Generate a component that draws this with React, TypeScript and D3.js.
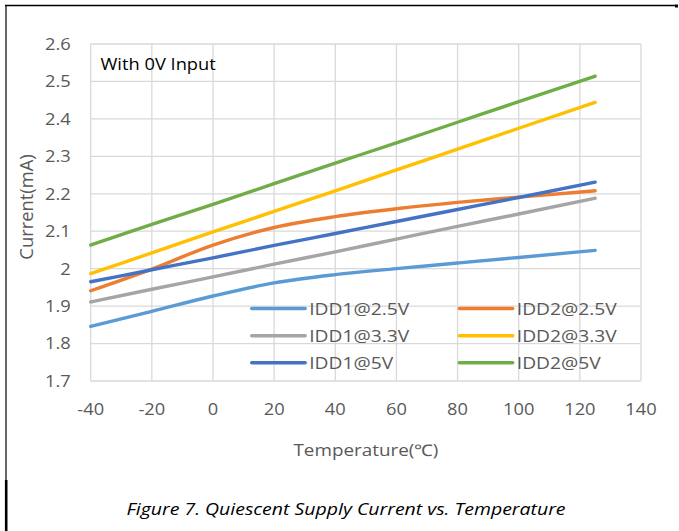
import React from 'react';
import * as d3 from 'd3';

const temps = [-40, -20, 0, 20, 40, 60, 80, 100, 125];

const idd1_25 = [1.846, 1.886, 1.927, 1.962, 1.984, 2.0, 2.015, 2.03, 2.049];
const idd2_25 = [1.941, 1.999, 2.063, 2.11, 2.139, 2.16, 2.177, 2.191, 2.208];
const idd1_33 = [1.911, 1.945, 1.978, 2.012, 2.045, 2.079, 2.113, 2.146, 2.188];
const idd2_33 = [1.987, 2.042, 2.098, 2.153, 2.208, 2.264, 2.319, 2.375, 2.444];
const idd1_5 = [1.965, 1.997, 2.029, 2.062, 2.094, 2.126, 2.158, 2.19, 2.231];
const idd2_5 = [2.063, 2.118, 2.172, 2.227, 2.282, 2.336, 2.391, 2.446, 2.514];

const seriesNames = ['IDD1@2.5V', 'IDD2@2.5V', 'IDD1@3.3V', 'IDD2@3.3V', 'IDD1@5V', 'IDD2@5V'];
const seriesValues = [idd1_25, idd2_25, idd1_33, idd2_33, idd1_5, idd2_5];
const colors = ['#5B9BD5', '#ED7D31', '#A5A5A5', '#FFC000', '#4472C4', '#70AD47'];

const xTicks = [-40, -20, 0, 20, 40, 60, 80, 100, 120, 140];
const yTicks = [1.7, 1.8, 1.9, 2.0, 2.1, 2.2, 2.3, 2.4, 2.5, 2.6];

const W = 679;
const H = 531;
const plot = { left: 90.7, right: 641, top: 44, bottom: 381 };
const SX = 1.18; // the picture is a bit wide, stretch text to match
const font = '"Open Sans", sans-serif';
const grey = '#595959';

const App: React.FC = () => {
  const x = d3.scaleLinear().domain([-40, 140]).range([plot.left, plot.right]);
  const y = d3.scaleLinear().domain([1.7, 2.6]).range([plot.bottom, plot.top]);

  const line = d3
    .line<[number, number]>()
    .x((d) => x(d[0]))
    .y((d) => y(d[1]))
    .curve(d3.curveMonotoneX);

  // legend: two columns, three rows
  const legendCol = [251.7, 459.3];
  const legendRow = [308.5, 335.7, 362.7];

  const txt = (
    key: string,
    tx: number,
    ty: number,
    s: string,
    size: number,
    anchor: string,
    fill: string,
    extra: any = {}
  ) => (
    <text
      key={key}
      transform={`translate(${tx},${ty}) scale(${SX},1)`}
      textAnchor={anchor}
      dominantBaseline="central"
      fontSize={size}
      fontFamily={font}
      fill={fill}
      {...extra}
    >
      {s}
    </text>
  );

  return (
    <svg
      width={W}
      height={H}
      style={{ position: 'absolute', left: 0, top: 0, background: '#fff' }}
    >
      {/* page borders */}
      <line x1={5} x2={676} y1={5.5} y2={5.5} stroke="#000" strokeWidth={1.5} />
      <line x1={675} x2={678} y1={6} y2={6} stroke="#000" strokeWidth={3} />
      <line x1={6} x2={6} y1={5} y2={480} stroke="#000" strokeWidth={1.2} />
      <line x1={6.2} x2={6.2} y1={480} y2={H} stroke="#000" strokeWidth={2.6} />

      {/* grid */}
      <g stroke="#d9d9d9" strokeWidth={1.3}>
        {xTicks.map((t) => (
          <line key={'gx' + t} x1={x(t)} x2={x(t)} y1={plot.top} y2={plot.bottom} />
        ))}
        {yTicks.map((t) => (
          <line key={'gy' + t} x1={plot.left} x2={plot.right} y1={y(t)} y2={y(t)} />
        ))}
      </g>

      {/* tick labels */}
      {yTicks.map((t) =>
        txt('yl' + t, 70.7, y(t), d3.format('')(+t.toFixed(1)), 15.5, 'end', grey)
      )}
      {xTicks.map((t) => txt('xl' + t, x(t), 409.5, String(t), 15.5, 'middle', grey))}

      {/* axis titles */}
      {txt('xt', (plot.left + plot.right) / 2, 450, 'Temperature(℃)', 16, 'middle', grey)}
      <text
        transform={`translate(25,207) rotate(-90) scale(1.08,1.12)`}
        textAnchor="middle"
        dominantBaseline="central"
        fontSize={17}
        fontFamily={font}
        fill={grey}
      >
        Current(mA)
      </text>

      {txt('note', 100.5, 64.5, 'With 0V Input', 15.5, 'start', '#000')}

      {/* series */}
      <g fill="none" strokeWidth={3.4} strokeLinecap="round" strokeLinejoin="round">
        {seriesValues.map((vals, i) => (
          <path
            key={seriesNames[i]}
            d={line(temps.map((t, j) => [t, vals[j]] as [number, number])) || ''}
            stroke={colors[i]}
          />
        ))}
      </g>

      {/* legend */}
      {seriesNames.map((name, i) => {
        const lx = legendCol[i % 2];
        const ly = legendRow[Math.floor(i / 2)];
        return (
          <g key={'lg' + name}>
            <line
              x1={lx}
              x2={lx + 53.5}
              y1={ly}
              y2={ly}
              stroke={colors[i]}
              strokeWidth={3.4}
              strokeLinecap="round"
            />
            {txt('lt' + name, lx + 57.5, ly, name, 16.3, 'start', grey)}
          </g>
        );
      })}

      {/* caption */}
      {txt(
        'cap',
        346,
        509,
        'Figure 7. Quiescent Supply Current vs. Temperature',
        16.5,
        'middle',
        '#000',
        { fontStyle: 'italic' }
      )}
    </svg>
  );
};

export default App;
